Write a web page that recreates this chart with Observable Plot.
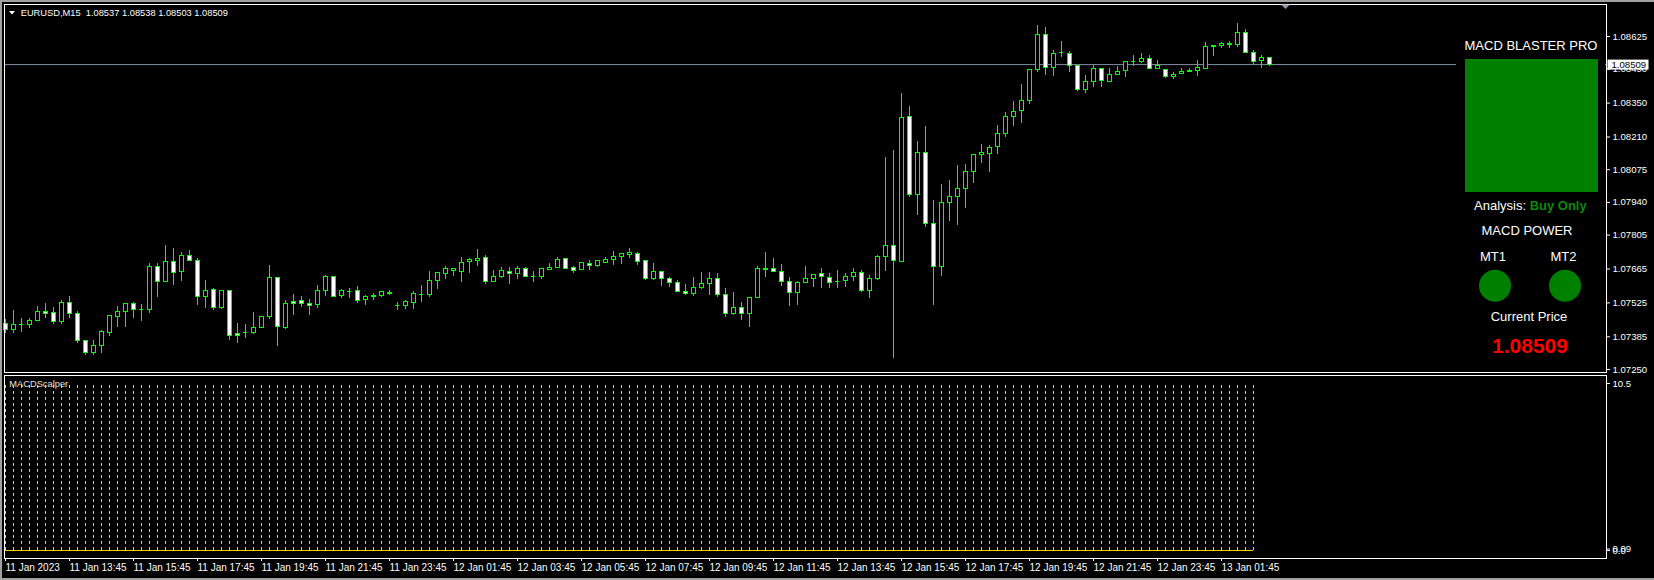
<!DOCTYPE html>
<html><head><meta charset="utf-8">
<script src="https://cdn.jsdelivr.net/npm/d3@7"></script>
<script src="https://cdn.jsdelivr.net/npm/@observablehq/plot@0.6"></script>
<style>
html,body{margin:0;padding:0;background:#000;}
#wrap{position:relative;width:1654px;height:580px;background:#000;overflow:hidden;}
</style></head><body><div id="wrap"></div>
<script>
// ---- Data (EURUSD M15) ----
const openP = [
1.07439,1.07414,1.07434,1.07434,1.07451,1.07488,1.07484,1.07445,1.07525,1.07480,
1.07368,1.07317,1.07348,1.07401,1.07467,1.07487,1.07521,1.07496,1.07495,1.07674,
1.07611,1.07694,1.07652,1.07719,1.07699,1.07549,1.07579,1.07503,1.07575,1.07397,
1.07401,1.07400,1.07422,1.07466,1.07628,1.07421,1.07529,1.07533,1.07521,1.07517,
1.07575,1.07633,1.07553,1.07573,1.07573,1.07536,1.07550,1.07553,1.07562,1.07514,
1.07511,1.07524,1.07558,1.07557,1.07615,1.07644,1.07657,1.07652,1.07694,1.07697,
1.07711,1.07611,1.07630,1.07653,1.07644,1.07667,1.07635,1.07631,1.07660,1.07668,
1.07707,1.07671,1.07660,1.07686,1.07677,1.07690,1.07701,1.07715,1.07722,1.07727,
1.07696,1.07623,1.07653,1.07624,1.07609,1.07572,1.07561,1.07586,1.07602,1.07624,
1.07558,1.07478,1.07505,1.07478,1.07544,1.07660,1.07663,1.07653,1.07612,1.07565,
1.07609,1.07623,1.07645,1.07628,1.07615,1.07615,1.07631,1.07649,1.07573,1.07623,
1.07714,1.07761,1.07693,1.08293,1.07970,1.08144,1.07851,1.07672,1.07937,1.07961,
1.07994,1.08065,1.08135,1.08139,1.08168,1.08222,1.08292,1.08316,1.08358,1.08487,
1.08632,1.08494,1.08559,1.08553,1.08504,1.08403,1.08436,1.08491,1.08439,1.08465,
1.08482,1.08520,1.08519,1.08532,1.08491,1.08487,1.08459,1.08469,1.08477,1.08482,
1.08490,1.08581,1.08585,1.08590,1.08588,1.08640,1.08557,1.08524,1.08537];
const highP = [
1.07455,1.07494,1.07459,1.07459,1.07510,1.07521,1.07505,1.07533,1.07551,1.07489,
1.07368,1.07370,1.07410,1.07474,1.07510,1.07521,1.07527,1.07517,1.07688,1.07686,
1.07762,1.07750,1.07732,1.07741,1.07708,1.07617,1.07586,1.07578,1.07575,1.07440,
1.07436,1.07485,1.07467,1.07679,1.07628,1.07533,1.07560,1.07551,1.07539,1.07597,
1.07638,1.07635,1.07580,1.07584,1.07593,1.07555,1.07564,1.07572,1.07576,1.07527,
1.07535,1.07571,1.07597,1.07655,1.07649,1.07675,1.07663,1.07712,1.07708,1.07745,
1.07721,1.07659,1.07671,1.07671,1.07675,1.07671,1.07655,1.07668,1.07688,1.07712,
1.07710,1.07677,1.07692,1.07700,1.07701,1.07712,1.07737,1.07725,1.07750,1.07733,
1.07701,1.07688,1.07653,1.07630,1.07617,1.07601,1.07630,1.07650,1.07650,1.07645,
1.07584,1.07568,1.07525,1.07546,1.07675,1.07733,1.07708,1.07683,1.07630,1.07613,
1.07675,1.07641,1.07667,1.07646,1.07659,1.07646,1.07667,1.07659,1.07637,1.07721,
1.08124,1.08154,1.08389,1.08336,1.08191,1.08253,1.07948,1.08014,1.08030,1.08092,
1.08096,1.08136,1.08179,1.08175,1.08257,1.08311,1.08356,1.08427,1.08487,1.08670,
1.08662,1.08568,1.08604,1.08563,1.08504,1.08464,1.08505,1.08491,1.08491,1.08501,
1.08520,1.08546,1.08553,1.08548,1.08526,1.08487,1.08475,1.08493,1.08493,1.08526,
1.08600,1.08586,1.08599,1.08604,1.08678,1.08654,1.08568,1.08546,1.08538];
const lowP = [
1.07397,1.07397,1.07404,1.07418,1.07448,1.07459,1.07434,1.07434,1.07462,1.07356,
1.07308,1.07308,1.07317,1.07388,1.07423,1.07423,1.07459,1.07448,1.07481,1.07549,
1.07611,1.07597,1.07613,1.07699,1.07514,1.07500,1.07494,1.07498,1.07370,1.07359,
1.07379,1.07396,1.07422,1.07456,1.07346,1.07415,1.07473,1.07507,1.07473,1.07503,
1.07553,1.07549,1.07544,1.07543,1.07524,1.07514,1.07536,1.07547,1.07554,1.07495,
1.07499,1.07499,1.07528,1.07549,1.07580,1.07622,1.07634,1.07611,1.07646,1.07677,
1.07600,1.07611,1.07626,1.07602,1.07622,1.07631,1.07611,1.07622,1.07660,1.07668,
1.07664,1.07648,1.07660,1.07659,1.07672,1.07690,1.07679,1.07683,1.07710,1.07681,
1.07617,1.07617,1.07594,1.07590,1.07567,1.07555,1.07553,1.07582,1.07555,1.07549,
1.07466,1.07474,1.07454,1.07425,1.07544,1.07631,1.07652,1.07594,1.07511,1.07516,
1.07604,1.07590,1.07586,1.07586,1.07586,1.07590,1.07615,1.07569,1.07544,1.07619,
1.07655,1.07297,1.07693,1.07961,1.07887,1.07838,1.07514,1.07634,1.07862,1.07844,
1.07916,1.08019,1.08102,1.08065,1.08139,1.08209,1.08255,1.08267,1.08345,1.08477,
1.08464,1.08459,1.08539,1.08475,1.08399,1.08391,1.08413,1.08413,1.08436,1.08465,
1.08457,1.08502,1.08515,1.08491,1.08491,1.08450,1.08446,1.08469,1.08477,1.08459,
1.08490,1.08543,1.08577,1.08577,1.08581,1.08553,1.08509,1.08491,1.08503];
const closeP = [
1.07414,1.07434,1.07434,1.07451,1.07488,1.07478,1.07447,1.07525,1.07480,1.07367,
1.07317,1.07349,1.07405,1.07469,1.07488,1.07521,1.07496,1.07496,1.07674,1.07611,
1.07694,1.07648,1.07719,1.07699,1.07549,1.07575,1.07503,1.07575,1.07388,1.07388,
1.07401,1.07422,1.07467,1.07628,1.07426,1.07521,1.07521,1.07520,1.07513,1.07575,
1.07633,1.07551,1.07575,1.07573,1.07532,1.07551,1.07555,1.07568,1.07567,1.07514,
1.07529,1.07560,1.07558,1.07617,1.07649,1.07663,1.07663,1.07690,1.07701,1.07708,
1.07611,1.07633,1.07655,1.07644,1.07667,1.07631,1.07635,1.07663,1.07671,1.07704,
1.07664,1.07656,1.07688,1.07677,1.07696,1.07704,1.07716,1.07725,1.07733,1.07694,
1.07623,1.07653,1.07623,1.07606,1.07571,1.07562,1.07587,1.07604,1.07624,1.07557,
1.07478,1.07505,1.07478,1.07546,1.07666,1.07667,1.07652,1.07611,1.07565,1.07609,
1.07624,1.07641,1.07631,1.07606,1.07615,1.07633,1.07649,1.07573,1.07624,1.07715,
1.07761,1.07699,1.08289,1.07970,1.08144,1.07851,1.07672,1.07937,1.07963,1.07996,
1.08066,1.08136,1.08142,1.08165,1.08223,1.08293,1.08314,1.08359,1.08487,1.08632,
1.08494,1.08553,1.08559,1.08504,1.08403,1.08438,1.08491,1.08442,1.08466,1.08479,
1.08520,1.08520,1.08534,1.08491,1.08505,1.08459,1.08466,1.08479,1.08484,1.08493,
1.08582,1.08586,1.08596,1.08596,1.08640,1.08556,1.08519,1.08538,1.08509];
const lastPrice = 1.08509;
const priceTicks = [1.08625,1.08490,1.08350,1.08210,1.08075,1.07940,1.07805,1.07665,1.07525,1.07385,1.07250];
// MACDScalper histogram (one bar per candle, all at the top level)
const scalperVals = [
10.5,10.5,10.5,10.5,10.5,10.5,10.5,10.5,10.5,10.5,10.5,10.5,10.5,10.5,10.5,10.5,10.5,10.5,10.5,10.5,
10.5,10.5,10.5,10.5,10.5,10.5,10.5,10.5,10.5,10.5,10.5,10.5,10.5,10.5,10.5,10.5,10.5,10.5,10.5,10.5,
10.5,10.5,10.5,10.5,10.5,10.5,10.5,10.5,10.5,10.5,10.5,10.5,10.5,10.5,10.5,10.5,10.5,10.5,10.5,10.5,
10.5,10.5,10.5,10.5,10.5,10.5,10.5,10.5,10.5,10.5,10.5,10.5,10.5,10.5,10.5,10.5,10.5,10.5,10.5,10.5,
10.5,10.5,10.5,10.5,10.5,10.5,10.5,10.5,10.5,10.5,10.5,10.5,10.5,10.5,10.5,10.5,10.5,10.5,10.5,10.5,
10.5,10.5,10.5,10.5,10.5,10.5,10.5,10.5,10.5,10.5,10.5,10.5,10.5,10.5,10.5,10.5,10.5,10.5,10.5,10.5,
10.5,10.5,10.5,10.5,10.5,10.5,10.5,10.5,10.5,10.5,10.5,10.5,10.5,10.5,10.5,10.5,10.5,10.5,10.5,10.5,
10.5,10.5,10.5,10.5,10.5,10.5,10.5,10.5,10.5,10.5,10.5,10.5,10.5,10.5,10.5,10.5,10.5];
const scalperTicks = [10.5, 0.09, 0];
const scalperTickLabels = ["10.5", "0.09", "0.0"];
const timeTickBars = [0,8,16,24,32,40,48,56,64,72,80,88,96,104,112,120,128,136,144,152];
const timeTickLabels = ["11 Jan 2023","11 Jan 13:45","11 Jan 15:45","11 Jan 17:45","11 Jan 19:45",
 "11 Jan 21:45","11 Jan 23:45","12 Jan 01:45","12 Jan 03:45","12 Jan 05:45","12 Jan 07:45",
 "12 Jan 09:45","12 Jan 11:45","12 Jan 13:45","12 Jan 15:45","12 Jan 17:45","12 Jan 19:45",
 "12 Jan 21:45","12 Jan 23:45","13 Jan 01:45"];
const headerText = "EURUSD,M15  1.08537 1.08538 1.08503 1.08509";

// ---- Build ----
const candles = openP.map((o, i) => ({i, o, h: highP[i], l: lowP[i], c: closeP[i]}));
const bodies = candles.filter(d => d.o !== d.c);
const dojis = candles.filter(d => d.o === d.c);
const hist = scalperVals.map((v, i) => ({i, v}));

const FONT = "'Liberation Sans', Arial, sans-serif";
const W = 1654;
const xDomain = [-0.125, 200.125];
const LIME = "#00ff00", GOLD = "#ffd700";
const baseStyle = {background: "black", color: "white", fontFamily: FONT, fontSize: "9.6px", overflow: "visible"};

const main = Plot.plot({
  width: W, height: 375,
  marginLeft: 4, marginRight: 48, marginTop: 4, marginBottom: 3,
  style: baseStyle,
  x: {type: "linear", domain: xDomain, axis: null},
  y: {type: "linear", domain: [1.072376, 1.087571]},
  color: {type: "identity"},
  marks: [
    Plot.ruleY([lastPrice], {stroke: "#7f8fa1"}),
    Plot.ruleX(candles, {x: "i", y1: "l", y2: "h", stroke: LIME, shapeRendering: "crispEdges"}),
    Plot.rect(bodies, {x1: d => d.i - 0.25, x2: d => d.i + 0.25, y1: "o", y2: "c",
      fill: d => d.c > d.o ? "black" : "white", stroke: LIME, shapeRendering: "crispEdges"}),
    Plot.ruleY(dojis, {y: "o", x1: d => d.i - 0.25, x2: d => d.i + 0.25, stroke: LIME, shapeRendering: "crispEdges"}),
    Plot.frame({stroke: "white"}),
    Plot.axisY(priceTicks, {anchor: "right", tickSize: 3, tickPadding: 3, tickFormat: d => d.toFixed(5), label: null})
  ]
});
main.style.position = "absolute"; main.style.left = "0px"; main.style.top = "0px";

const ind = Plot.plot({
  width: W, height: 207,
  marginLeft: 4, marginRight: 48, marginTop: 2, marginBottom: 22,
  style: {...baseStyle, fontSize: "10px"},
  x: {type: "linear", domain: xDomain},
  y: {type: "linear", domain: [-0.503, 11.003]},
  marks: [
    Plot.ruleX(hist, {x: "i", y1: 0, y2: "v", stroke: GOLD, strokeDasharray: "3,3", shapeRendering: "crispEdges"}),
    Plot.ruleY([0], {x1: hist[0].i, x2: hist[hist.length - 1].i, stroke: GOLD}),
    Plot.frame({stroke: "white"}),
    Plot.axisX(timeTickBars, {anchor: "bottom", tickSize: 3, tickPadding: 2, textAnchor: "start",
      tickFormat: d => timeTickLabels[timeTickBars.indexOf(d)], label: null}),
    Plot.axisY(scalperTicks, {anchor: "right", tickSize: 3, tickPadding: 3, fontSize: 9.6,
      tickFormat: d => scalperTickLabels[scalperTicks.indexOf(d)], label: null})
  ]
});
ind.style.position = "absolute"; ind.style.left = "0px"; ind.style.top = "373px";

const wrap = document.getElementById("wrap");
wrap.appendChild(main);
wrap.appendChild(ind);

// ---- Overlay: header, chart panel, price label ----
const ov = d3.create("svg").attr("width", W).attr("height", 580)
  .style("position", "absolute").style("left", "0px").style("top", "0px")
  .style("font-family", FONT);
// window borders
ov.append("rect").attr("x", 0).attr("y", 0).attr("width", W).attr("height", 2).attr("fill", "#a0a0a0");
ov.append("rect").attr("x", 0).attr("y", 0).attr("width", 2).attr("height", 580).attr("fill", "#a0a0a0");
ov.append("rect").attr("x", 0).attr("y", 578).attr("width", W).attr("height", 2).attr("fill", "#a0a0a0");
// header
ov.append("path").attr("d", "M9,11 L15,11 L12,14.5 Z").attr("fill", "white");
ov.append("text").attr("x", 20.7).attr("y", 16).attr("fill", "white").attr("font-size", 9.3)
  .style("white-space", "pre").text(headerText);
// chart shift marker
ov.append("path").attr("d", "M1281,4.5 L1290,4.5 L1285.5,9 Z").attr("fill", "#8c97a3");
// indicator name
ov.append("text").attr("x", 9.3).attr("y", 387.3).attr("fill", "#e0e0e0").attr("font-size", 9.3).text("MACDScalper");
// current price label on the axis
const yScale = main.scale("y");
const yp = yScale.apply(lastPrice) + 0.5;
ov.append("rect").attr("x", 1607.5).attr("y", yp - 5).attr("width", 41).attr("height", 10).attr("fill", "white");
ov.append("text").attr("x", 1611.5).attr("y", yp + 3.3).attr("fill", "black").attr("font-size", 9.6).text(lastPrice.toFixed(5));

// MACD BLASTER PRO panel
const pg = ov.append("g");
pg.append("rect").attr("x", 1456).attr("y", 20).attr("width", 149).attr("height", 350).attr("fill", "black");
pg.append("text").attr("x", 1531).attr("y", 49.7).attr("text-anchor", "middle").attr("fill", "white").attr("font-size", 13).text("MACD BLASTER PRO");
pg.append("rect").attr("x", 1465).attr("y", 59).attr("width", 133).attr("height", 133).attr("fill", "#008000");
const an = pg.append("text").attr("x", 1474).attr("y", 209.6).attr("font-size", 13).style("white-space", "pre");
an.append("tspan").attr("fill", "white").text("Analysis: ");
an.append("tspan").attr("fill", "#0a8a0a").attr("font-weight", "bold").text("Buy Only");
pg.append("text").attr("x", 1527).attr("y", 234.6).attr("text-anchor", "middle").attr("fill", "white").attr("font-size", 13).text("MACD POWER");
pg.append("text").attr("x", 1493).attr("y", 261.3).attr("text-anchor", "middle").attr("fill", "white").attr("font-size", 13).text("MT1");
pg.append("text").attr("x", 1563.5).attr("y", 261.3).attr("text-anchor", "middle").attr("fill", "white").attr("font-size", 13).text("MT2");
pg.append("circle").attr("cx", 1495).attr("cy", 285.7).attr("r", 16).attr("fill", "#008000");
pg.append("circle").attr("cx", 1565).attr("cy", 285.7).attr("r", 16).attr("fill", "#008000");
pg.append("text").attr("x", 1529).attr("y", 321.3).attr("text-anchor", "middle").attr("fill", "white").attr("font-size", 13).text("Current Price");
pg.append("text").attr("x", 1530).attr("y", 352.5).attr("text-anchor", "middle").attr("fill", "red").attr("font-size", 21).attr("font-weight", "bold").text(lastPrice.toFixed(5));

wrap.appendChild(ov.node());
</script></body></html>
